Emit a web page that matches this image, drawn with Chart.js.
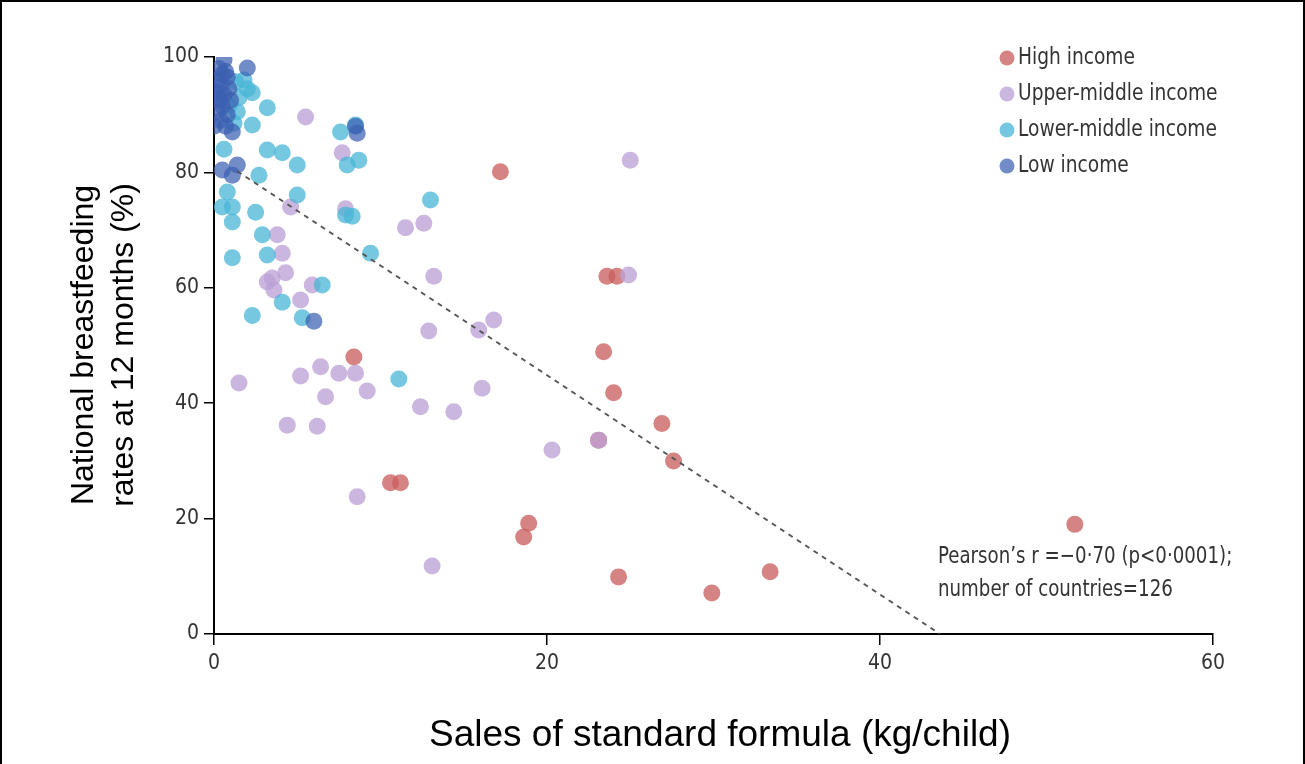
<!DOCTYPE html>
<html>
<head>
<meta charset="utf-8">
<script src="https://cdn.jsdelivr.net/npm/chart.js@4.4.0/dist/chart.umd.min.js"></script>
<style>
  html, body { margin: 0; padding: 0; background: #fff; }
  #wrap { width: 1305px; height: 764px; position: relative; }
</style>
</head>
<body>
<div id="wrap"><canvas id="chart" width="1305" height="764"></canvas></div>
<script>
// income groups
const groupNames = ['High income', 'Upper-middle income', 'Lower-middle income', 'Low income'];
const groupColors = ['rgba(202,96,96,0.78)', 'rgba(188,162,214,0.78)', 'rgba(72,182,214,0.75)', 'rgba(60,95,178,0.72)'];

// sales of standard formula (kg/child) and breastfeeding at 12 months (%)
const highX = [17.2, 23.6, 24.2, 23.4, 24.0, 26.9, 27.6, 23.1, 10.6, 11.2, 18.9, 18.6, 24.3, 29.9, 33.4, 51.7, 8.4];
const highY = [80.1, 62.0, 62.0, 48.9, 41.8, 36.5, 30.0, 33.6, 26.2, 26.2, 19.2, 16.8, 9.9, 7.1, 10.8, 19.0, 48.0];

const upperX = [25.0, 24.9, 5.5, 7.7, 7.9, 4.6, 11.5, 12.6, 3.8, 4.1, 4.3, 3.5, 3.6, 5.9, 5.2, 13.2, 12.9, 15.9, 16.8,
  16.1, 14.4, 12.4, 1.5, 5.2, 6.4, 7.5, 8.5, 6.7, 9.2, 4.4, 6.2, 20.3, 23.1, 8.6, 13.1, 3.2];
const upperY = [82.1, 62.2, 89.6, 83.4, 73.7, 74.0, 70.4, 71.2, 69.2, 66.0, 62.6, 61.7, 59.6, 60.5, 57.9, 62.0, 52.5, 52.7, 54.4,
  42.6, 38.5, 39.4, 43.5, 44.7, 46.3, 45.2, 45.2, 41.1, 42.1, 36.2, 36.0, 31.9, 33.6, 23.8, 11.8, 61.0];

const lowerX = [3.2, 2.3, 3.2, 4.1, 5.0, 2.7, 7.6, 8.5, 8.0, 8.7, 5.0, 2.5, 7.9, 2.9, 3.2, 9.4, 6.5, 4.1, 5.3, 13.0,
  2.3, 11.1, 2.3, 1.3, 1.4, 0.8, 0.5, 1.1, 1.1, 1.1, 1.5, 1.8, 0.9, 1.2, 2.0, 8.3, 0.6];
const lowerY = [91.2, 88.2, 83.9, 83.4, 81.3, 79.5, 87.0, 88.2, 81.3, 82.1, 76.1, 73.1, 72.6, 69.2, 65.7, 66.0, 60.5, 57.5, 54.8, 75.2,
  55.2, 44.2, 93.8, 95.7, 90.5, 76.6, 74.0, 74.0, 71.4, 65.2, 93.0, 96.0, 91.5, 88.5, 94.5, 72.4, 84.0];

const lowX = [0.6, 2.0, 0.3, 0.5, 0.2, 0.8, 0.4, 0.9, 0.1, 0.6, 0.3, 1.0, 0.5, 0.2, 0.8, 0.4, 0.7, 0.0, 1.1, 0.5, 1.4, 1.1,
  8.6, 8.5, 6.0, 0.3, 0.7];
const lowY = [99.5, 98.1, 98.0, 97.0, 96.0, 96.5, 95.0, 94.5, 94.0, 93.5, 92.5, 92.5, 91.5, 90.5, 90.0, 89.0, 88.0, 88.0, 87.0, 80.4, 81.3, 79.5,
  86.8, 88.0, 54.2, 93.0, 97.5];

// fitted line
const trendX = [1.4, 43.6];
const trendY = [80.2, 0];

const xTicks = [0, 20, 40, 60];
const yTicks = [0, 20, 40, 60, 80, 100];

const narrow = "'Liberation Sans Narrow', 'DejaVu Sans Condensed', 'Roboto', sans-serif";

function toPoints(xs, ys) {
    return xs.map((x, i) => ({ x: x, y: ys[i] }));
}

// squeezed text, the source uses a condensed face
function condensedText(ctx, text, x, y, sx) {
    ctx.save();
    ctx.translate(x, y);
    ctx.scale(sx, 1);
    ctx.fillText(text, 0, 0);
    ctx.restore();
}

const seriesX = [highX, upperX, lowerX, lowX];
const seriesY = [highY, upperY, lowerY, lowY];

const datasets = groupNames.map((name, i) => ({
    type: 'scatter',
    label: name,
    data: toPoints(seriesX[i], seriesY[i]),
    backgroundColor: groupColors[i],
    borderWidth: 0,
    pointRadius: 8.5,
    order: 4 - i
}));

datasets.push({
    type: 'line',
    label: 'trend',
    data: toPoints(trendX, trendY),
    borderColor: '#555',
    borderWidth: 2,
    borderDash: [5, 5],
    pointRadius: 0,
    fill: false,
    order: 0
});

// titles, legend, note and frame
const extras = {
    id: 'extras',
    afterDraw(chart) {
        const ctx = chart.ctx;
        ctx.save();

        // frame
        ctx.strokeStyle = '#000';
        ctx.lineWidth = 2;
        ctx.beginPath();
        ctx.moveTo(1, 764);
        ctx.lineTo(1, 1);
        ctx.lineTo(1304, 1);
        ctx.lineTo(1304, 764);
        ctx.stroke();

        // axis titles
        ctx.fillStyle = '#000';
        ctx.font = "37px 'Liberation Sans', Arial, sans-serif";
        ctx.textAlign = 'center';
        ctx.textBaseline = 'middle';
        ctx.fillText('Sales of standard formula (kg/child)', 720, 736);

        ctx.font = "32px 'Liberation Sans', Arial, sans-serif";
        ctx.save();
        ctx.translate(84, 345);
        ctx.rotate(-Math.PI / 2);
        ctx.fillText('National breastfeeding', 0, 0);
        ctx.fillText('rates at 12 months (%)', 0, 40);
        ctx.restore();

        // legend
        ctx.font = '23px ' + narrow;
        ctx.textAlign = 'left';
        groupNames.forEach((name, i) => {
            const y = 58 + i * 36;
            ctx.fillStyle = groupColors[i];
            ctx.beginPath();
            ctx.arc(1007, y, 7.5, 0, Math.PI * 2);
            ctx.fill();
            ctx.fillStyle = '#333';
            condensedText(ctx, name, 1018, y, 0.9);
        });

        // correlation note
        ctx.fillStyle = '#333';
        condensedText(ctx, 'Pearson\u2019s r =\u22120\u00b770 (p<0\u00b70001);', 938, 557, 0.88);
        condensedText(ctx, 'number of countries=126', 938, 590, 0.88);

        ctx.restore();
    }
};

new Chart(document.getElementById('chart'), {
    data: { datasets: datasets },
    options: {
        responsive: false,
        animation: false,
        layout: { padding: { left: 0, top: 57, right: 1305 - 1213, bottom: 0 } },
        plugins: {
            legend: { display: false },
            tooltip: { enabled: false }
        },
        scales: {
            x: {
                type: 'linear',
                min: 0,
                max: 60,
                afterBuildTicks: scale => { scale.ticks = xTicks.map(v => ({ value: v })); },
                afterFit: scale => { scale.height = 130; },
                grid: { drawOnChartArea: false, drawTicks: true, tickLength: 11, color: '#000', lineWidth: 1.5 },
                border: { display: true, color: '#000', width: 2 },
                ticks: { color: '#333', font: { family: narrow, size: 21 }, padding: 6 }
            },
            y: {
                type: 'linear',
                min: 0,
                max: 100,
                afterBuildTicks: scale => { scale.ticks = yTicks.map(v => ({ value: v })); },
                afterFit: scale => { scale.width = 214; },
                grid: { drawOnChartArea: false, drawTicks: true, tickLength: 10, color: '#000', lineWidth: 1.5 },
                border: { display: true, color: '#000', width: 2 },
                ticks: { color: '#333', font: { family: narrow, size: 21 }, padding: 5 }
            }
        }
    },
    plugins: [extras]
});
</script>
</body>
</html>
